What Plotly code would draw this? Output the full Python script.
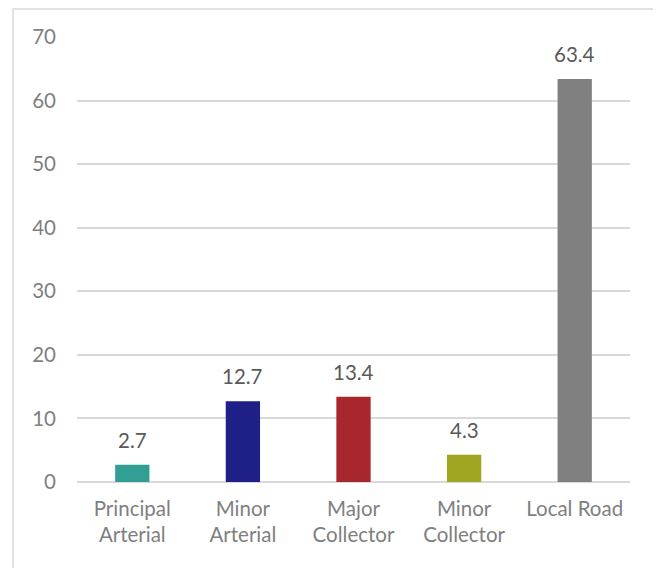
import plotly.graph_objects as go

categories = ["Principal<br>Arterial", "Minor<br>Arterial", "Major<br>Collector", "Minor<br>Collector", "Local Road"]
values = [2.7, 12.7, 13.4, 4.3, 63.4]
labels = ["2.7", "12.7", "13.4", "4.3", "63.4"]
colors = ["#339E93", "#1F1F88", "#A8272E", "#A0A522", "#808080"]
yticks = [0, 10, 20, 30, 40, 50, 60, 70]

FONT = "Lato, Liberation Sans, sans-serif"
FS = 20.5

fig = go.Figure()
fig.add_trace(go.Bar(
    x=categories, y=values,
    marker=dict(color=colors, line=dict(width=0)),
    hoverinfo="skip",
))

for c, v, t in zip(categories, values, labels):
    fig.add_annotation(x=c, y=v, text=t, showarrow=False, yanchor="bottom",
                       yshift=11, font=dict(family=FONT, size=FS, color="#595959"))

# page is offset by 8px body margin
OFF = 8
W, H = 653, 560
L, T = 77 - OFF, 37 - OFF
R = W - (630 - OFF)
B = H - (482 - OFF)
pw, ph = W - L - R, H - T - B

def px_x(x):
    return (x - OFF - L) / pw

def px_y(y):
    return (H - B - (y - OFF)) / ph

fig.add_shape(type="rect", xref="paper", yref="paper",
              x0=px_x(13), x1=px_x(659), y0=px_y(580), y1=px_y(9),
              line=dict(color="#D9D9D9", width=1.5), fillcolor="rgba(0,0,0,0)", layer="below")

fig.update_layout(
    width=W, height=H,
    margin=dict(l=L, r=R, t=T, b=B, pad=0),
    paper_bgcolor="white", plot_bgcolor="white",
    bargap=0.69,
    showlegend=False,
    font=dict(family=FONT, size=FS, color="#7F7F7F"),
    xaxis=dict(showgrid=False, showline=False, zeroline=False, ticks="",
               ticklabelstandoff=12,
               tickfont=dict(family=FONT, size=FS, color="#7F7F7F"), fixedrange=True),
    yaxis=dict(range=[0, 70], tickvals=yticks, showgrid=True, gridcolor="#D9D9D9",
               gridwidth=1.5, zeroline=True, zerolinecolor="#D9D9D9", zerolinewidth=1.5,
               showline=False, ticks="", ticklabelstandoff=20,
               tickfont=dict(family=FONT, size=FS, color="#7F7F7F"), fixedrange=True),
)

fig.write_html("out.html")
